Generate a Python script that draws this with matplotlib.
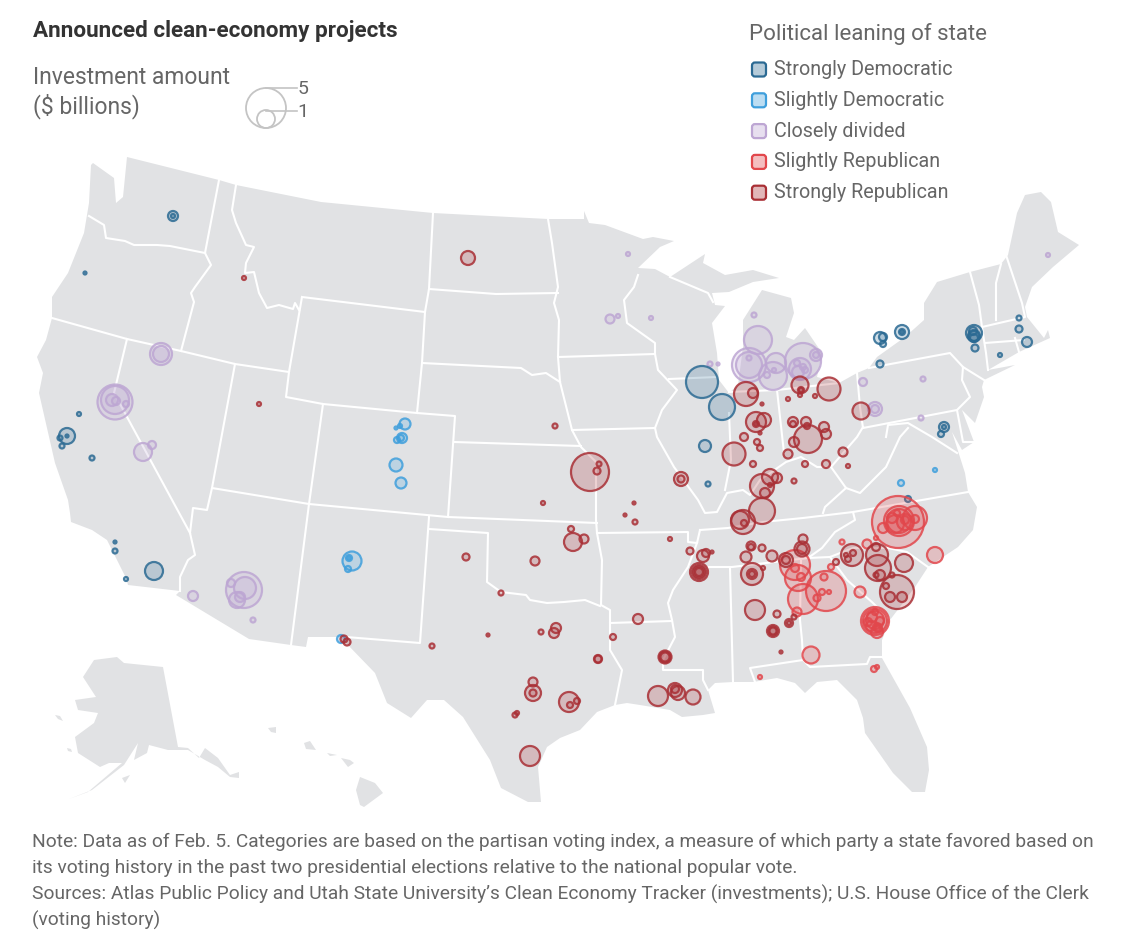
import matplotlib
matplotlib.use("Agg")
import matplotlib.pyplot as plt
from matplotlib.colors import to_rgba
from matplotlib.patches import Polygon, FancyBboxPatch, Circle

plt.rcParams['font.family'] = ['Roboto', 'DejaVu Sans']

# map shapes, in picture coordinates
us_outline = [
    (91,165),(93,163),(114,178),(116,203),(123,197),(127,157),(219,180),(236,185),(321,202),(433,213),(548,219),
    (584,219),(584,211),(589,223),(605,225),(643,239),(653,237),(674,241),(660,247),(638,268),(655,269),(670,277),
    (705,254),(703,263),(725,275),(753,270),(779,278),(753,282),(729,292),(712,293),(715,305),(725,306),(712,323),
    (717,353),(719,380),(729,393),(738,385),(743,347),(743,320),(762,290),(791,298),(794,313),(786,337),(794,340),
    (805,328),(822,353),(817,377),(839,383),(857,373),(869,368),(877,357),(905,337),(924,320),(924,303),(937,282),
    (970,272),(1001,264),(1008,255),(1017,213),(1025,195),(1041,192),(1051,202),(1058,232),(1079,245),(1053,267),
    (1032,287),(1025,307),(1027,317),(1044,338),(1048,330),(1050,338),(1019,352),(988,370),(1015,365),(984,380),
    (982,387),(984,397),(975,423),(962,410),(974,442),(962,450),(952,432),(965,473),(968,492),(977,507),(973,530),
    (958,547),(928,567),(915,587),(890,620),(882,640),(882,658),(910,708),(927,747),(929,770),(925,792),(912,792),
    (893,773),(865,733),(863,718),(857,700),(837,680),(817,682),(805,693),(795,683),(777,678),(753,682),(733,682),
    (715,683),(708,690),(715,713),(703,715),(682,717),(670,710),(640,705),(627,703),(615,705),(597,712),(580,730),
    (560,738),(547,747),(538,767),(541,802),(528,802),(501,788),(490,760),(463,717),(444,700),(427,700),(411,718),
    (387,703),(375,673),(346,643),(340,637),(308,637),(306,647),(291,645),(249,639),(176,595),(180,591),(128,585),
    (126,578),(107,540),(92,530),(71,522),(70,513),(68,500),(55,463),(39,393),(43,373),(37,357),(46,340),(52,318),
    (52,297),(68,273),(84,233),(89,203),
]
alaska_outline = [
    (117,657),(124,663),(163,667),(178,747),(188,748),(199,758),(205,748),(218,758),(230,775),(239,772),(239,778),
    (230,777),(218,767),(205,760),(188,750),(168,750),(149,745),(147,753),(134,760),(138,743),(124,765),(92,790),
    (69,799),(88,792),(122,763),(109,763),(100,767),(78,753),(75,737),(94,723),(98,713),(78,710),(75,700),(96,697),
    (83,677),(94,660),
]
islands = [
    [(55,715),(60,716),(63,721),(58,719)],
    [(67,748),(71,749),(72,752),(68,751)],
    [(122,778),(130,775),(125,783)],
    [(360,777),(375,783),(383,793),(364,807),(360,805),(356,790)],
    [(341,758),(350,760),(354,763),(348,767)],
    [(327,753),(337,755),(330,756)],
    [(304,743),(310,741),(316,750),(306,749)],
    [(268,728),(276,727),(276,733),(271,732)],
]
state_lines = [
    [(89,216),(104,225),(106,238),(125,241),(134,245),(157,245),(170,246),(205,253)],
    [(219,180),(205,253),(211,265),(195,287),(191,293),(194,302),(181,351)],
    [(52,318),(127,339),(181,351),(235,364),(289,372)],
    [(236,185),(232,210),(236,223),(246,245),(254,247),(246,263),(245,273),(254,272),(259,293),(267,308),(279,305),(293,309),(295,303),(299,310)],
    [(302,297),(289,372),(286,397),(323,404),(417,413),(455,416),(448,517)],
    [(302,297),(425,312)],
    [(433,213),(429,289),(425,312),(422,363),(417,413)],
    [(235,364),(212,488),(207,510),(193,508),(190,533),(195,555),(188,560),(180,577),(180,591)],
    [(127,339),(114,393),(190,533)],
    [(212,488),(309,504),(448,517),(597,523)],
    [(323,404),(309,504),(291,645)],
    [(454,442),(581,446)],
    [(429,289),(496,294),(558,293)],
    [(422,363),(521,368),(532,375),(546,373),(560,382)],
    [(548,219),(552,243),(558,287),(554,303),(559,320),(558,357),(560,382),(572,430),(581,447),(596,462),(596,520),(597,533),(602,560),(601,605),(610,610),(610,650),(622,670),(618,690),(615,705)],
    [(558,357),(655,354)],
    [(572,430),(655,428)],
    [(638,275),(634,287),(624,300),(627,323),(655,343),(655,354),(658,370),(677,390),(662,410),(655,428),(657,437),(674,467),(698,500),(705,513),(717,512),(727,493),(743,490),(750,495),(760,480),(786,462),(801,457),(817,467),(831,467),(857,437),(863,427)],
    [(669,379),(717,377)],
    [(729,413),(731,460),(725,490)],
    [(729,392),(777,390),(839,383)],
    [(777,390),(784,453)],
    [(857,373),(860,407),(863,428),(957,410),(970,397),(962,380),(963,367),(950,353),(869,368)],
    [(963,367),(984,380)],
    [(957,410),(963,442),(974,442)],
    [(886,437),(888,425),(908,423),(932,437),(957,453)],
    [(908,428),(900,437),(886,467),(860,493),(846,488),(831,467)],
    [(846,488),(825,507),(823,513)],
    [(968,492),(853,512),(855,520),(835,532),(822,548),(808,558)],
    [(700,530),(728,528),(763,522),(803,518),(853,512)],
    [(708,567),(732,567),(808,558),(830,557),(853,548),(888,548),(907,552),(928,567)],
    [(830,557),(847,580),(873,603),(890,620)],
    [(801,561),(800,620),(802,640),(803,660),(810,667),(867,664),(870,657),(882,657)],
    [(803,660),(750,668),(755,682)],
    [(730,568),(733,682)],
    [(597,533),(688,532),(688,542),(697,543),(700,530)],
    [(697,543),(688,567),(673,590),(668,603),(672,620),(675,637),(663,660),(663,670),(703,670),(703,680),(708,690)],
    [(610,623),(672,621)],
    [(429,517),(420,643),(346,637)],
    [(429,529),(488,533),(487,582),(501,592),(526,595),(530,600),(547,603),(564,602),(585,600),(600,606)],
    [(670,277),(708,293),(713,302)],
    [(970,272),(979,305),(982,327),(986,353),(988,370)],
    [(1001,264),(996,283),(996,320)],
    [(1006,255),(1022,303),(1025,317),(982,327)],
    [(985,343),(1024,340)],
    [(1015,338),(1019,352)],
]

# bubbles: x, y, radius
strong_dem_x = [173,173,85,67,60,62,67,79,92,154,115,115,126,702,722,705,708,880,883,883,902,902,902,880,974,974,973,974,975,974,1019,1019,1027,1000,944,944,941,908]
strong_dem_y = [216,216,273,436,438,446,436,414,458,571,542,551,579,382,407,446,484,338,337,344,332,332,332,364,333,336,331,338,348,336,318,329,342,355,427,427,434,499]
strong_dem_r = [5,2,1.5,8,2.5,2.5,1.5,2,2.5,9,1.5,2.5,2,16,13,6,2.5,6,4,3,7,3,1.5,3.5,8,6,4,4,3.5,5,2.5,3.5,5,2,5,2,3,3]

slight_dem_x = [405,400,396,402,401,397,396,401,352,349,349,348,341,935,901]
slight_dem_y = [424,426,428,438,438,440,465,483,561,558,558,569,639,470,483]
slight_dem_r = [5.5,2,1.5,5,3,3,6.5,5.5,9.5,3,1.5,3,4,2,3]

divided_x = [161,161,115,115,116,126,112,143,152,244,245,237,240,231,193,253,628,610,618,651,710,718,758,749,749,749,776,773,767,803,800,816,816,798,805,797,803,774,754,863,923,921,875,875,1048]
divided_y = [354,354,402,400,401,404,400,452,445,590,588,600,597,583,596,620,254,319,316,318,364,364,340,365,365,358,363,376,375,361,369,355,355,372,370,363,367,370,315,382,379,418,409,409,255]
divided_r = [11,8,17.5,14,4,3,6,9,4,18,11,8,5,4,5,2.5,2,4.5,2,2,2.5,1.5,14,17,13,2.5,10,14,3,18,11,6,3,6,3,3,3,2,2.5,4,2.5,2.5,7,4,2]

slight_rep_x = [898,915,899,899,892,883,915,905,897,895,905,935,860,867,842,876,831,826,824,822,829,803,817,797,798,801,795,795,875,875,875,872,880,868,877,878,875,877,871,811,760,874,877]
slight_rep_y = [522,518,521,521,518,528,519,520,513,524,522,555,592,544,542,538,567,591,577,592,592,599,598,612,578,577,568,565,621,621,620,617,621,622,632,628,612,627,626,655,677,669,667]
slight_rep_r = [26,12,15,12,5,5,4,4,3,9,8,8,5.5,4.5,2.5,2,3,20,3.5,3,2,15,3.5,4.5,13,4,4,15,14,12,9,5,4,4,6,4,3,4,5,8.5,2,3,2]

strong_rep_x = [468,244,259,555,543,634,625,635,590,597,599,573,571,584,535,466,501,432,488,541,556,554,598,638,613,598,665,665,665,533,533,533,569,577,570,515,517,530,658,675,675,678,693,690,703,706,712,699,699,699,699,670,344,347,681,681,746,753,762,756,764,756,756,760,744,757,760,734,753,800,801,801,800,788,815,829,793,793,806,807,824,826,808,794,788,805,826,843,848,861,794,770,777,762,765,770,762,743,740,744,751,751,762,746,772,752,752,752,763,786,786,802,802,803,755,777,773,773,773,789,789,794,781,852,853,848,846,836,877,876,878,876,880,892,904,897,886,890,902]
strong_rep_y = [258,278,404,426,503,503,515,522,472,471,464,542,529,539,561,557,593,646,635,632,628,633,659,619,637,659,657,657,657,682,693,693,702,701,705,715,713,756,696,690,689,693,697,551,556,553,552,572,572,572,572,539,639,642,479,479,394,393,404,422,420,424,424,433,437,442,448,454,464,385,390,390,395,399,396,389,422,424,422,426,427,434,439,442,454,464,464,452,466,411,481,477,478,486,493,485,511,522,520,523,546,547,548,557,556,574,574,574,568,560,560,549,549,539,610,614,631,631,631,623,623,617,652,555,553,559,555,562,555,547,568,575,575,575,563,592,586,597,597]
strong_rep_r = [7,2,2,2.5,2,1.5,1.5,2.5,19,3.5,2.5,9,3,4.5,4.5,3.5,2.5,2.5,1.5,2.5,5,5,3.5,5,3,4,6.5,5.5,4.5,4.5,8,3.5,10,3,3,2.5,2,10,10,7,4,7,7.5,3.5,6,4,1.5,9,7,5.5,4,2,3.5,3.5,7,3.5,12,5,1.5,10,7,3,1.5,1.5,4,3,3,11.5,3,8.5,3,2,2,2,2,11.5,5,3,5,3,5,5,14,5,4.5,3,4,4.5,2,8.5,2.5,8,5,12,5,2,13,12,9,3,4.5,3,3.5,5.5,5.5,11,5,3,2,7,4,7.5,5,4.5,10,3.5,6,4.5,3.5,4,2,2.5,1.5,11,3,3,2,3,11,4,13,2.5,5,2.5,9,17,3,5,5]

group_names = ["Strongly Democratic", "Slightly Democratic", "Closely divided", "Slightly Republican", "Strongly Republican"]
group_colors = ["#2b6a93", "#3f9fdc", "#bda6d3", "#e2474c", "#a92f35"]
size_labels = ["5", "1"]
size_values = [20, 9]

land = "#e1e2e4"
txt = "#666666"

fig = plt.figure(figsize=(11.24, 9.46), dpi=100)
ax = fig.add_axes([0, 0, 1, 1])
ax.set_xlim(0, 1124)
ax.set_ylim(946, 0)
ax.axis("off")

# land
ax.add_patch(Polygon(us_outline, closed=True, fc=land, ec="none", zorder=1))
ax.add_patch(Polygon(alaska_outline, closed=True, fc=land, ec="none", zorder=1))
for shape in islands:
    ax.add_patch(Polygon(shape, closed=True, fc=land, ec="none", zorder=1))
for line in state_lines:
    ax.plot([p[0] for p in line], [p[1] for p in line], color="white", lw=1.5, zorder=2, solid_joinstyle="round")

# bubbles, radius in pixels -> scatter area in points
def bubbles(xs, ys, rs, color, z):
    sizes = [(2 * r * 0.72) ** 2 for r in rs]
    ax.scatter(xs, ys, s=sizes, facecolor=to_rgba(color, 0.22), edgecolor=to_rgba(color, 0.85),
               linewidth=1.6, zorder=z)

bubbles(divided_x, divided_y, divided_r, group_colors[2], 3)
bubbles(strong_dem_x, strong_dem_y, strong_dem_r, group_colors[0], 4)
bubbles(slight_dem_x, slight_dem_y, slight_dem_r, group_colors[1], 4)
bubbles(slight_rep_x, slight_rep_y, slight_rep_r, group_colors[3], 5)
bubbles(strong_rep_x, strong_rep_y, strong_rep_r, group_colors[4], 6)

# header text
ax.text(33, 31, "Announced clean-economy projects", fontsize=16.2, fontweight="bold", color="#333333", va="center")
ax.text(33, 78, "Investment amount", fontsize=16.5, color=txt, va="center")
ax.text(33, 106, "($ billions)", fontsize=16.5, color=txt, va="center")

# size legend
ax.add_patch(Circle((266, 108), size_values[0], fc="none", ec="#c4c4c4", lw=1.3, zorder=3))
ax.add_patch(Circle((266, 119), size_values[1], fc="none", ec="#c4c4c4", lw=1.3, zorder=3))
ax.plot([266, 297], [88, 88], color="#c4c4c4", lw=1.2)
ax.plot([266, 297], [111, 111], color="#c4c4c4", lw=1.2)
ax.text(303, 89, size_labels[0], fontsize=14, color=txt, ha="center", va="center")
ax.text(303, 112, size_labels[1], fontsize=14, color=txt, ha="center", va="center")

# color legend
ax.text(749, 34, "Political leaning of state", fontsize=16, color=txt, va="center")
for i, name in enumerate(group_names):
    y = 69.5 + i * 30.8
    ax.add_patch(FancyBboxPatch((752, y - 7), 14, 14, boxstyle="round,pad=0,rounding_size=3",
                                fc=to_rgba(group_colors[i], 0.35), ec=group_colors[i], lw=1.6, zorder=3))
    ax.text(774, y, name, fontsize=14.2, color=txt, va="center")

# footnote
notes = [
    "Note: Data as of Feb. 5. Categories are based on the partisan voting index, a measure of which party a state favored based on",
    "its voting history in the past two presidential elections relative to the national popular vote.",
    "Sources: Atlas Public Policy and Utah State University\u2019s Clean Economy Tracker (investments); U.S. House Office of the Clerk",
    "(voting history)",
]
for i, line in enumerate(notes):
    ax.text(32, 842 + i * 26, line, fontsize=13.8, color=txt, va="center")

fig.savefig("out.png", dpi=100)
